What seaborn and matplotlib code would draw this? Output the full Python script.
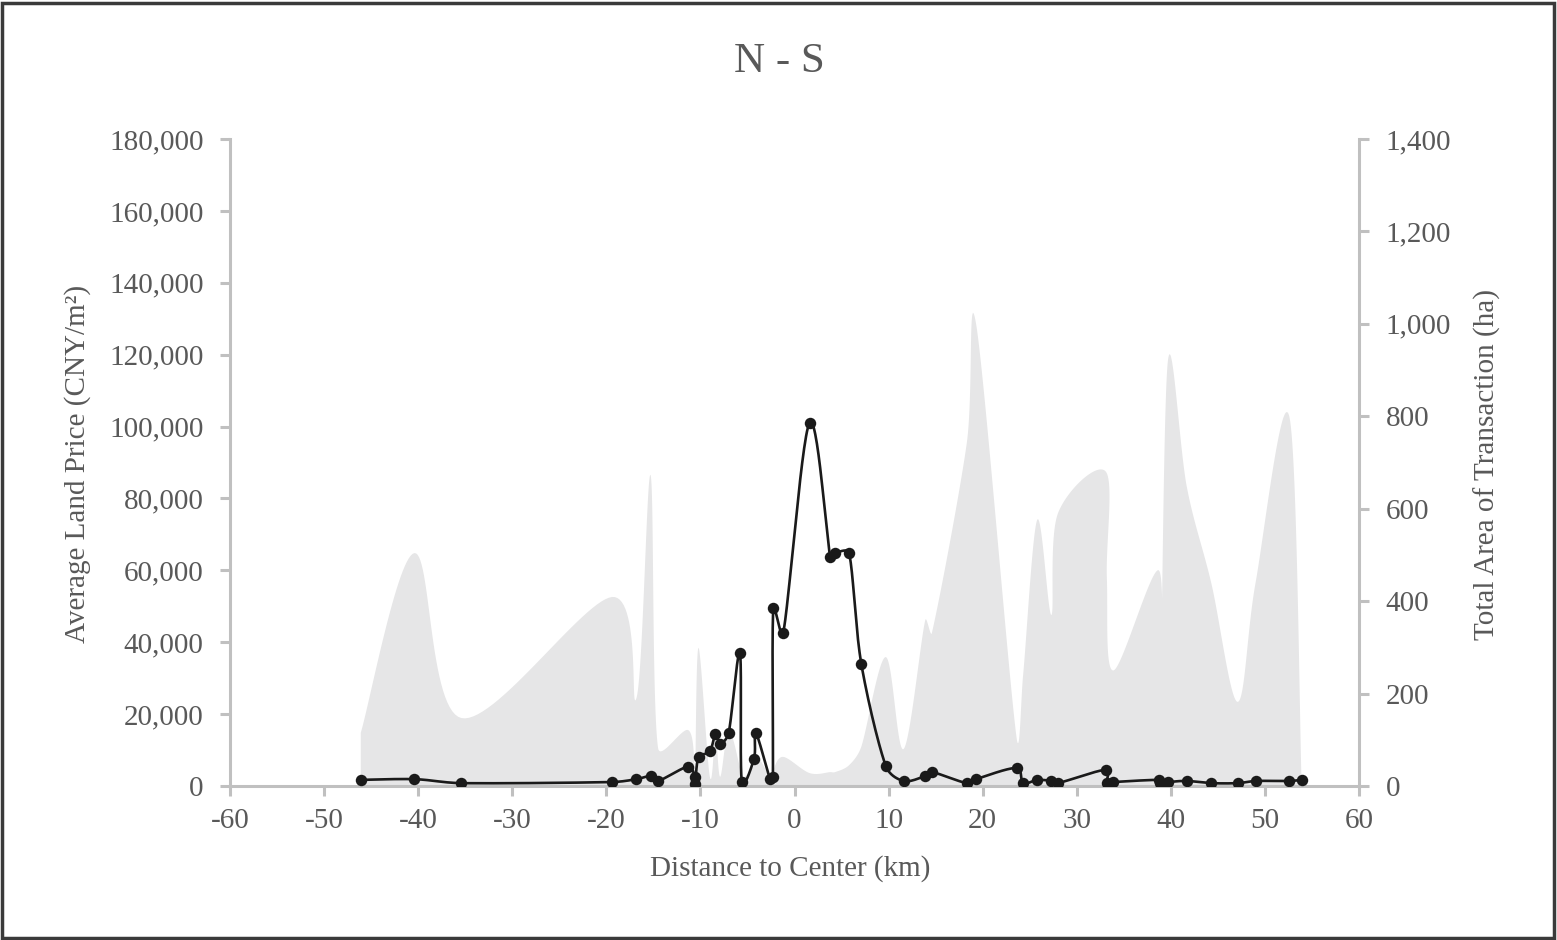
import numpy as np
import pandas as pd
import matplotlib
matplotlib.use("Agg")
import matplotlib.pyplot as plt
from matplotlib.patches import Rectangle
from matplotlib.ticker import FuncFormatter
import seaborn as sns

# ---------------- data ----------------
distance_km = [-46.1, -40.4, -35.4, -19.4, -16.8, -15.3, -14.5, -11.3, -10.6, -10.55,
               -10.2, -9.0, -8.4, -7.9, -7.0, -5.8, -5.6, -4.3, -4.1, -2.6,
               -2.3, -2.25, -1.2, 1.6, 3.8, 4.3, 5.8, 7.1, 9.7, 11.6,
               13.9, 14.6, 18.3, 19.3, 23.6, 24.3, 25.8, 27.3, 28.0, 33.1,
               33.2, 33.9, 38.7, 38.9, 39.7, 41.7, 44.3, 47.1, 49.0, 52.6, 53.9]
land_price = [1700, 1900, 800, 1100, 1900, 2800, 1400, 5400, 2500, 600,
              8000, 9600, 14500, 11700, 14700, 37000, 1100, 7600, 14700, 2000,
              2500, 49400, 42500, 101000, 63700, 64800, 64800, 34000, 5600, 1400,
              2800, 3900, 800, 1900, 5000, 800, 1700, 1400, 800, 4500,
              800, 1100, 1700, 800, 1100, 1400, 800, 800, 1400, 1400, 1700]
transaction_area = [115, 504, 147, 409, 190, 673, 82, 121, 40, 28,
                    299, 20, 110, 20, 121, 40, 15, 45, 70, 20,
                    25, 35, 63, 28, 30, 30, 45, 85, 279, 80,
                    359, 331, 740, 1000, 105, 240, 576, 370, 590, 680,
                    450, 250, 467, 212, 922, 647, 439, 182, 439, 799, 5]

x_ticks = list(range(-60, 61, 10))
price_ticks = list(range(0, 180001, 20000))
area_ticks = list(range(0, 1401, 200))

df = pd.DataFrame({"distance": distance_km, "price": land_price, "area": transaction_area})

# ---------------- helpers ----------------
def smooth_curve(xs, ys, sx, sy, n=30):
    """Cubic Bezier smoothing through the points (similar to Excel's smoothed
    line), computed in display-proportional space with limited handle length."""
    P = np.column_stack([np.asarray(xs, float) * sx, np.asarray(ys, float) * sy])
    m = len(P)
    tang = []
    for i in range(m):
        pm = P[i - 1] if i > 0 else P[i]
        pp = P[i + 1] if i + 1 < m else P[i]
        tang.append((pp - pm) / 6.0)
    out = [P[0]]
    t = np.linspace(0, 1, n)[1:, None]
    for i in range(m - 1):
        p0, p3 = P[i], P[i + 1]
        seg = np.linalg.norm(p3 - p0)
        t0, t1 = tang[i], tang[i + 1]
        n0, n1 = np.linalg.norm(t0), np.linalg.norm(t1)
        lim = seg / 2.5
        if n0 > lim and n0 > 0:
            t0 = t0 * lim / n0
        if n1 > lim and n1 > 0:
            t1 = t1 * lim / n1
        p1 = p0 + t0
        p2 = p3 - t1
        c = ((1 - t) ** 3) * p0 + 3 * ((1 - t) ** 2) * t * p1 + 3 * (1 - t) * t ** 2 * p2 + t ** 3 * p3
        out.extend(c)
    out = np.array(out)
    return out[:, 0] / sx, out[:, 1] / sy

# ---------------- style ----------------
sns.set_theme(style="ticks")
plt.rcParams['font.family'] = ['Liberation Serif', 'DejaVu Serif']
plt.rcParams['axes.unicode_minus'] = False

text_color = '#595959'
axis_color = '#c0c0c0'
fill_color = '#e6e6e7'
line_color = '#1a1a1a'
fs = 21

W, H = 1557, 940
fig = plt.figure(figsize=(W / 100, H / 100), dpi=100)
fig.patch.set_facecolor('white')

ax_l, ax_r, ax_t, ax_b = 230, 1359, 139, 786
ax = fig.add_axes([ax_l / W, 1 - ax_b / H, (ax_r - ax_l) / W, (ax_b - ax_t) / H])
ax2 = ax.twinx()

xmin, xmax = -60, 60
ax.set_xlim(xmin, xmax)
ax.set_ylim(0, 180000)
ax2.set_ylim(0, 1400)

pw, ph = ax_r - ax_l, ax_b - ax_t
sx = pw / (xmax - xmin)

# area (right axis)
cx, cy = smooth_curve(df["distance"], df["area"], sx, ph / 1400)
cy = np.clip(cy, 0, None)
ax2.fill(np.r_[cx, cx[-1], cx[0]], np.r_[cy, 0, 0], color=fill_color, lw=0, zorder=1)

# price line (left axis)
lx, ly = smooth_curve(df["distance"], df["price"], sx, ph / 180000)
ax.plot(lx, ly, color=line_color, lw=1.9, zorder=3, solid_capstyle='round')
sns.scatterplot(data=df, x="distance", y="price", ax=ax, color=line_color,
                s=68, edgecolor=line_color, linewidth=0, zorder=4, legend=False)

ax.set_zorder(ax2.get_zorder() + 1)
ax.patch.set_visible(False)

# ticks
ax.set_xticks(x_ticks)
ax.set_yticks(price_ticks)
ax2.set_yticks(area_ticks)
fmt = FuncFormatter(lambda v, p: f"{v:,.0f}")
ax.yaxis.set_major_formatter(fmt)
ax2.yaxis.set_major_formatter(fmt)
ax.xaxis.set_major_formatter(FuncFormatter(lambda v, p: f"{v:.0f}"))

for a in (ax, ax2):
    a.tick_params(axis='both', length=7, width=2.2, color=axis_color,
                  labelsize=fs, labelcolor=text_color, direction='out')
    a.set_xlabel("")
    a.set_ylabel("")
    a.grid(False)
ax.tick_params(axis='y', pad=12, left=True, right=False)
ax.tick_params(axis='x', pad=9, bottom=True)
ax2.tick_params(axis='y', pad=12, right=True, left=False)

for s in ('top', 'right'):
    ax.spines[s].set_visible(False)
for s in ('top', 'left', 'bottom'):
    ax2.spines[s].set_visible(False)
for s in ('left', 'bottom'):
    ax.spines[s].set_color(axis_color)
    ax.spines[s].set_linewidth(2.2)
ax2.spines['right'].set_color(axis_color)
ax2.spines['right'].set_linewidth(2.2)

# labels & title
fig.text(779 / W, 1 - 62 / H, "N - S", ha='center', va='center', fontsize=31, color=text_color)
fig.text(78 / W, 1 - 464 / H, "Average Land Price (CNY/m²)", ha='center', va='center',
         rotation=90, fontsize=fs, color=text_color)
fig.text(1487 / W, 1 - 464 / H, "Total Area of Transaction (ha)", ha='center', va='center',
         rotation=90, fontsize=fs, color=text_color)
fig.text(790 / W, 1 - 869 / H, "Distance to Center (km)", ha='center', va='center',
         fontsize=fs, color=text_color)

# outer frame
fig.patches.append(Rectangle((2 / W, 2 / H), 1 - 5 / W, 1 - 5 / H, transform=fig.transFigure,
                             fill=False, edgecolor='#3a3a3a', lw=2.5))

fig.savefig("out.png", dpi=100)
